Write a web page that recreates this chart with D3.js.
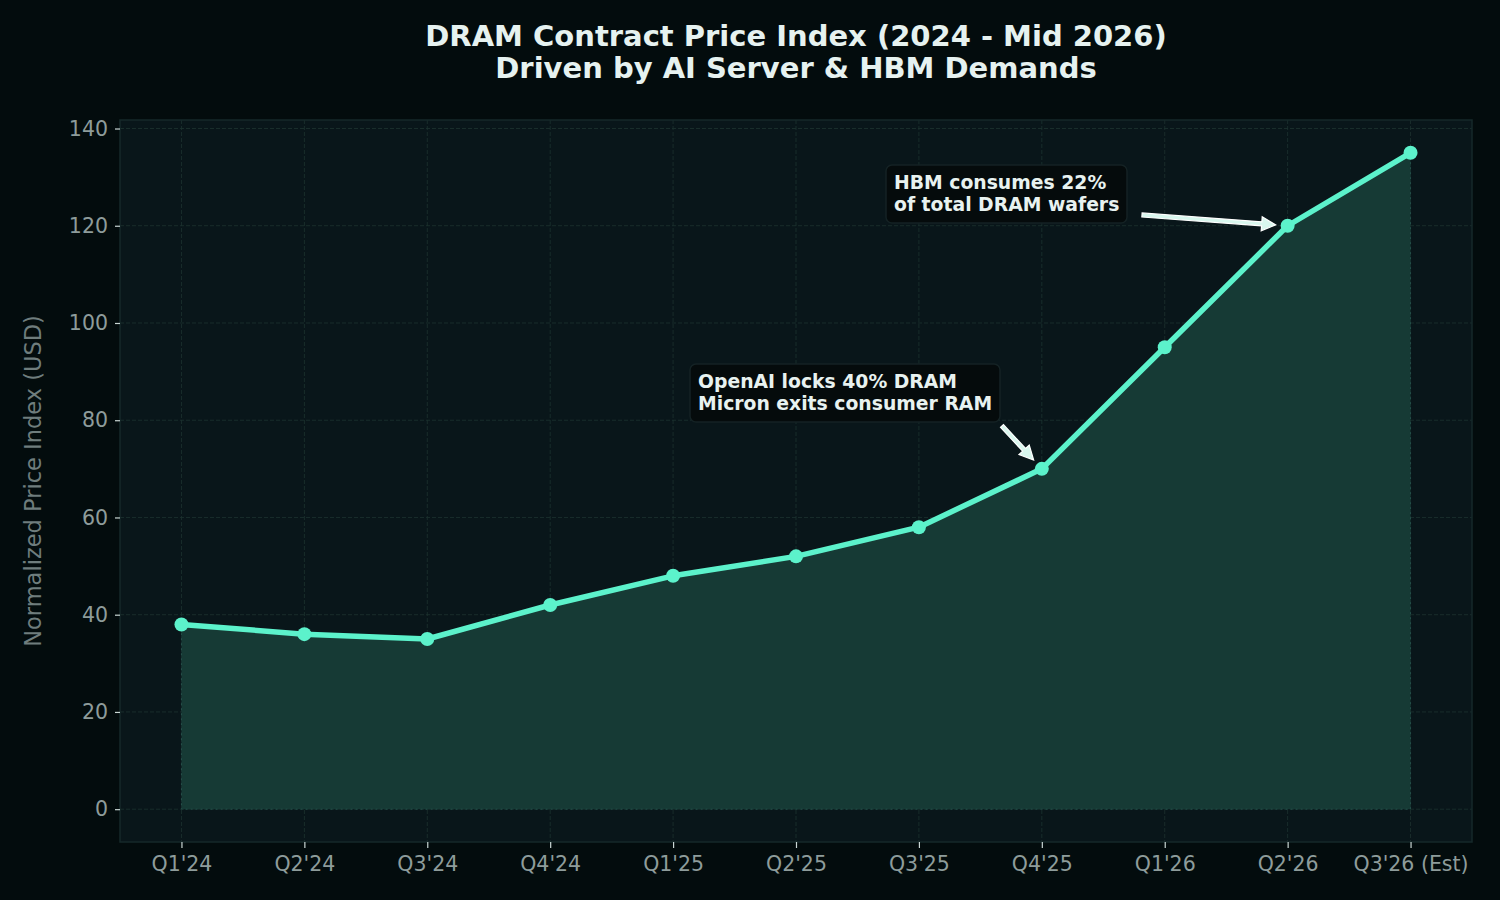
<!DOCTYPE html>
<html>
<head>
<meta charset="utf-8">
<script src="https://cdn.jsdelivr.net/npm/d3@7"></script>
<style>
  body { margin: 0; background: #030c0d; }
  svg { display: block; font-family: "DejaVu Sans", sans-serif; }
</style>
</head>
<body>
<svg id="chart" width="1500" height="900"></svg>
<script>
(function () {
    'use strict';

    const quarters = ["Q1'24", "Q2'24", "Q3'24", "Q4'24", "Q1'25", "Q2'25", "Q3'25", "Q4'25", "Q1'26", "Q2'26", "Q3'26 (Est)"];
    const priceIndex = [38, 36, 35, 42, 48, 52, 58, 70, 95, 120, 135];
    const yTicks = [0, 20, 40, 60, 80, 100, 120, 140];
    const notes = [
        { idx: 7, lines: ['OpenAI locks 40% DRAM', 'Micron exits consumer RAM'], box: [690, 364, 310, 58], from: [1002, 426] },
        { idx: 9, lines: ['HBM consumes 22%', 'of total DRAM wafers'], box: [886, 165, 241, 58], from: [1142, 215] }
    ];

    const width = 1500;
    const height = 900;
    const margin = ({ top: 120, right: 28, bottom: 58, left: 120 });

    const lineColor = '#5cf2cb';

    const x = d3.scaleLinear()
        .domain([-0.5, quarters.length - 0.5])
        .range([margin.left, width - margin.right]);

    const y = d3.scaleLinear()
        .domain([-6.75, 141.75])
        .range([height - margin.bottom, margin.top]);

    const svg = d3.select('#chart');

    svg.append('rect')
        .attr('width', width).attr('height', height)
        .attr('fill', '#030c0d');

    // plot background
    svg.append('rect')
        .attr('x', margin.left).attr('y', margin.top)
        .attr('width', width - margin.left - margin.right)
        .attr('height', height - margin.top - margin.bottom)
        .attr('fill', '#09161a');

    // grid
    const grid = svg.append('g');
    grid.selectAll('line.gy').data(yTicks).enter().append('line')
        .attr('x1', margin.left).attr('x2', width - margin.right)
        .attr('y1', d => y(d)).attr('y2', d => y(d))
        .attr('stroke', '#1d3330').attr('stroke-width', 1)
        .attr('stroke-dasharray', '4,2').attr('opacity', 0.8);
    grid.selectAll('line.gx').data(quarters).enter().append('line')
        .attr('y1', margin.top).attr('y2', height - margin.bottom)
        .attr('x1', (d, i) => x(i)).attr('x2', (d, i) => x(i))
        .attr('stroke', '#1d3330').attr('stroke-width', 1)
        .attr('stroke-dasharray', '4,2').attr('opacity', 0.8);

    // area
    const area = d3.area()
        .x((d, i) => x(i))
        .y0(y(0))
        .y1(d => y(d));
    svg.append('path')
        .datum(priceIndex)
        .attr('d', area)
        .attr('fill', '#163a35')
        .attr('stroke', '#24504a')
        .attr('stroke-width', 1)
        .attr('stroke-dasharray', '2,3');

    // line
    const line = d3.line()
        .x((d, i) => x(i))
        .y(d => y(d));
    svg.append('path')
        .datum(priceIndex)
        .attr('d', line)
        .attr('fill', 'none')
        .attr('stroke', lineColor)
        .attr('stroke-width', 5.5)
        .attr('stroke-linejoin', 'round');

    svg.append('g').selectAll('circle').data(priceIndex).enter().append('circle')
        .attr('cx', (d, i) => x(i))
        .attr('cy', d => y(d))
        .attr('r', 7)
        .attr('fill', lineColor);

    // frame
    svg.append('rect')
        .attr('x', margin.left).attr('y', margin.top)
        .attr('width', width - margin.left - margin.right)
        .attr('height', height - margin.top - margin.bottom)
        .attr('fill', 'none')
        .attr('stroke', '#16292a')
        .attr('stroke-width', 1.5);

    // axes
    const yAxis = svg.append('g')
        .attr('transform', `translate(${margin.left},0)`)
        .call(d3.axisLeft(y).tickValues(yTicks).tickSize(5).tickPadding(7));
    const xAxis = svg.append('g')
        .attr('transform', `translate(0,${height - margin.bottom})`)
        .call(d3.axisBottom(x).tickValues(d3.range(quarters.length)).tickFormat(i => quarters[i]).tickSize(6).tickPadding(8));
    [xAxis, yAxis].forEach(g => {
        g.select('.domain').remove();
        g.selectAll('.tick line').attr('stroke', '#c9d6d4').attr('stroke-width', 1.2);
        g.selectAll('.tick text')
            .attr('fill', '#8e9c9b')
            .style('font-size', '20.5px')
            .style('font-family', '"DejaVu Sans", sans-serif');
    });

    svg.append('text')
        .attr('transform', `translate(41,${(margin.top + height - margin.bottom) / 2}) rotate(-90)`)
        .attr('text-anchor', 'middle')
        .attr('fill', '#6f7d7d')
        .style('font-size', '22.5px')
        .text('Normalized Price Index (USD)');

    // title
    const title = svg.append('text')
        .attr('text-anchor', 'middle')
        .attr('fill', '#e6f2f0')
        .style('font-size', '29px')
        .style('font-weight', 'bold');
    title.append('tspan').attr('x', 796).attr('y', 46).text('DRAM Contract Price Index (2024 - Mid 2026)');
    title.append('tspan').attr('x', 796).attr('y', 78).text('Driven by AI Server & HBM Demands');

    // annotations
    const arrowPath = (p0, p1) => {
        const dx = p1[0] - p0[0], dy = p1[1] - p0[1];
        const len = Math.hypot(dx, dy);
        const ux = dx / len, uy = dy / len;
        const nx = -uy, ny = ux;
        const hl = 14, hw = 7, sw = 2;
        const bx = p1[0] - ux * hl, by = p1[1] - uy * hl;
        const pts = [
            [p0[0] + nx * sw, p0[1] + ny * sw],
            [bx + nx * sw, by + ny * sw],
            [bx + nx * hw, by + ny * hw],
            p1,
            [bx - nx * hw, by - ny * hw],
            [bx - nx * sw, by - ny * sw],
            [p0[0] - nx * sw, p0[1] - ny * sw]
        ];
        return d3.line()(pts) + 'Z';
    };

    notes.forEach(n => {
        const g = svg.append('g');
        g.append('rect')
            .attr('x', n.box[0]).attr('y', n.box[1])
            .attr('width', n.box[2]).attr('height', n.box[3])
            .attr('rx', 6)
            .attr('fill', '#050b0c')
            .attr('stroke', '#142224')
            .attr('stroke-width', 1.5);
        n.lines.forEach((t, k) => {
            g.append('text')
                .attr('x', n.box[0] + 8)
                .attr('y', n.box[1] + 24 + k * 22)
                .attr('fill', '#e8f2f0')
                .style('font-size', '18.8px')
                .style('font-weight', 'bold')
                .text(t);
        });
        const tx = x(n.idx), ty = y(priceIndex[n.idx]);
        const dx = tx - n.from[0], dy = ty - n.from[1];
        const len = Math.hypot(dx, dy);
        const end = [tx - dx / len * 12, ty - dy / len * 12];
        g.append('path')
            .attr('d', arrowPath(n.from, end))
            .attr('fill', '#d8f7ee')
            .attr('stroke', '#ffffff')
            .attr('stroke-width', 1.2)
            .attr('stroke-linejoin', 'miter');
    });
})();
</script>
</body>
</html>
